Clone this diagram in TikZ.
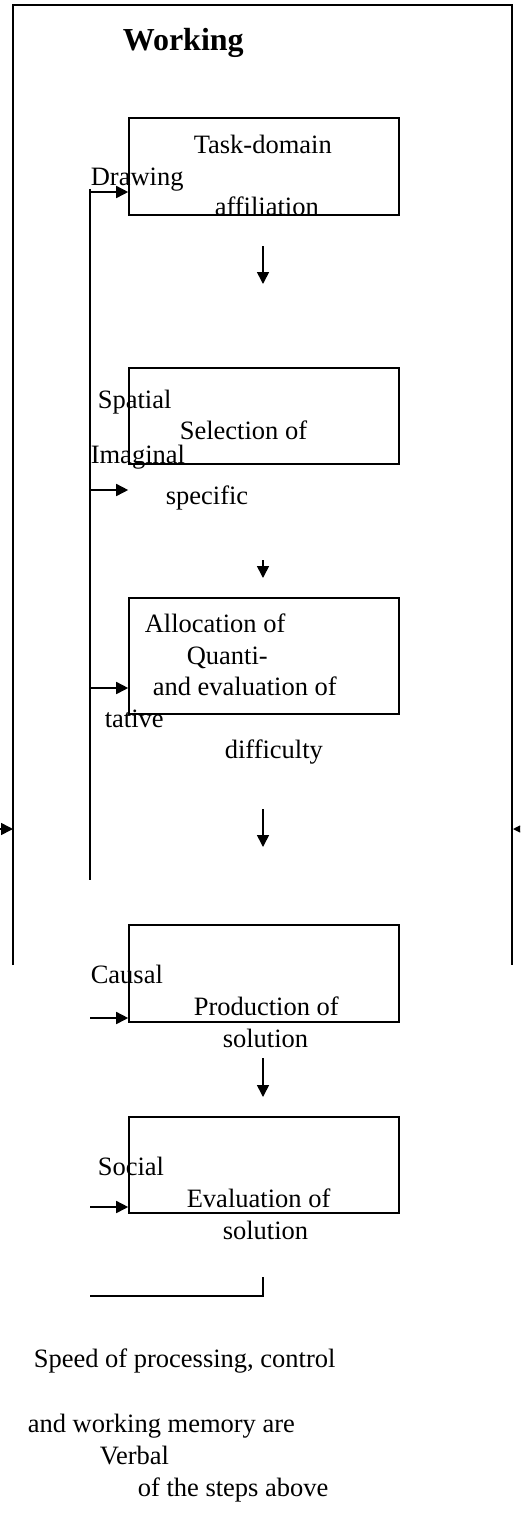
\documentclass[tikz,border=0pt]{standalone}
\usepackage{fontspec}
\setmainfont{Liberation Serif}
\usetikzlibrary{arrows.meta}
\begin{document}
\begin{tikzpicture}[x=1pt,y=-1pt,
  line width=1.6pt,
  box/.style={draw, line width=1.6pt, minimum width=270pt, inner sep=0pt},
  lbl/.style={anchor=base west, inner sep=0pt, font=\fontsize{26.5}{30}\selectfont},
  ttl/.style={anchor=base west, inner sep=0pt, font=\fontsize{32}{36}\selectfont\bfseries},
  arr/.style={-{Triangle[length=12pt,width=12pt]}},
  sarr/.style={-{Triangle[length=8pt,width=9pt]}}
  ]
\clip (0,0) rectangle (520,1540);
% texts
\node[ttl] (tWorking) at (122,50) {Working};
\node[lbl] (tTask) at (193,153) {Task-domain};
\node[lbl] (tDrawing) at (90,185) {Drawing};
\node[lbl] (tAff) at (214,215) {affiliation};
\node[lbl] (tSpatial) at (97,408) {Spatial};
\node[lbl] (tSel) at (179,439) {Selection of};
\node[lbl] (tImag) at (90,463) {Imaginal};
\node[lbl] (tSpec) at (165,504) {specific};
\node[lbl] (tAlloc) at (144,632) {Allocation of};
\node[lbl] (tQuanti) at (186,664) {Quanti-};
\node[lbl] (tAndEval) at (152,695) {and evaluation of};
\node[lbl] (tTative) at (104,727) {tative};
\node[lbl] (tDiff) at (224,758) {difficulty};
\node[lbl] (tCausal) at (90,983) {Causal};
\node[lbl] (tProd) at (193,1015) {Production of};
\node[lbl] (tSol1) at (222,1047) {solution};
\node[lbl] (tSocial) at (97,1175) {Social};
\node[lbl] (tEval) at (186,1207) {Evaluation of};
\node[lbl] (tSol2) at (222,1239) {solution};
\node[lbl] (tSpeed) at (33,1367) {Speed of processing, control};
\node[lbl] (tAndWM) at (27,1432) {and working memory are};
\node[lbl] (tVerbal) at (99,1464) {Verbal};
\node[lbl] (tSteps) at (137,1496) {of the steps above};
% boxes
\node[box, minimum height=97pt] (b1) at (264,166.5) {};
\node[box, minimum height=96pt] (b2) at (264,416) {};
\node[box, minimum height=116pt] (b3) at (264,656) {};
\node[box, minimum height=97pt] (b4) at (264,973.5) {};
\node[box, minimum height=96pt] (b5) at (264,1165) {};
% outer frame
\coordinate (fl) at (13,965);
\coordinate (ftl) at (13,5);
\coordinate (ftr) at (512,5);
\coordinate (fr) at (512,965);
\draw (fl) -- (ftl) -- (ftr) -- (fr);
\coordinate (inL) at (-2,829);
\coordinate (inLt) at (13,829);
\coordinate (inR) at (526,829);
\coordinate (inRt) at (513,829);
\draw[arr] (inL) -- (inLt);
\draw[arr] (inR) -- (inRt);
% left bus
\coordinate (busT) at (90,189);
\coordinate (busB) at (90,880);
\draw (busT) -- (busB);
\coordinate (d1) at (90,192);
\coordinate (d2) at (90,490);
\coordinate (d3) at (90,688);
\coordinate (d4) at (90,1018);
\coordinate (d5) at (90,1207);
\draw[arr] (d1) -- (d1 -| b1.west);
\draw[arr] (d2) -- (d2 -| b2.west);
\draw[arr] (d3) -- (d3 -| b3.west);
\draw[arr] (d4) -- (d4 -| b4.west);
\draw[arr] (d5) -- (d5 -| b5.west);
% down arrows
\coordinate (a1s) at (263,246); \coordinate (a1e) at (263,284);
\coordinate (a2s) at (263,560); \coordinate (a2e) at (263,578);
\coordinate (a3s) at (263,809); \coordinate (a3e) at (263,847);
\coordinate (a4s) at (263,1058); \coordinate (a4e) at (263,1097);
\draw[arr] (a1s) -- (a1e);
\draw[arr] (a2s) -- (a2e);
\draw[arr] (a3s) -- (a3e);
\draw[arr] (a4s) -- (a4e);
% bottom bracket
\coordinate (brL) at (90,1296);
\coordinate (brC) at (263,1296);
\coordinate (brT) at (263,1277);
\draw (brL) -- (brC) -- (brT);
\end{tikzpicture}
\end{document}
